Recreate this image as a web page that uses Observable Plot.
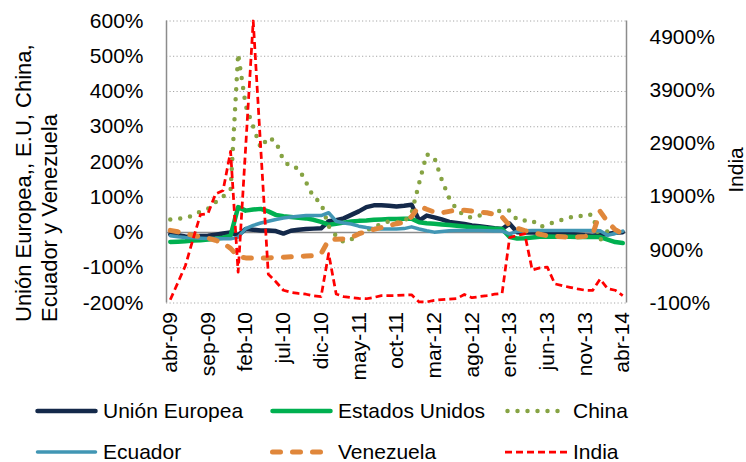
<!DOCTYPE html>
<html>
<head>
<meta charset="utf-8">
<script src="https://cdn.jsdelivr.net/npm/d3@7"></script>
<script src="https://cdn.jsdelivr.net/npm/@observablehq/plot@0.6"></script>
<style>
  body { margin: 0; background: #fff; font-family: "Liberation Sans", Arial, sans-serif; }
  #chart { position: relative; width: 746px; height: 462px; overflow: hidden; }
  #legend { position: absolute; left: 0; top: 395px; width: 746px; height: 67px; }
  .item { position: absolute; display: flex; align-items: center; font-size: 21px; color: #000; white-space: nowrap; }
  .item svg { margin-right: 5px; }
</style>
</head>
<body>
<div id="chart"><div id="legend"></div></div>
<script>
// ---- Data ----
const meses = ["abr-09","may-09","jun-09","jul-09","ago-09","sep-09","oct-09","nov-09","dic-09",
  "ene-10","feb-10","mar-10","abr-10","may-10","jun-10","jul-10","ago-10","sep-10","oct-10","nov-10","dic-10",
  "ene-11","feb-11","mar-11","abr-11","may-11","jun-11","jul-11","ago-11","sep-11","oct-11","nov-11","dic-11",
  "ene-12","feb-12","mar-12","abr-12","may-12","jun-12","jul-12","ago-12","sep-12","oct-12","nov-12","dic-12",
  "ene-13","feb-13","mar-13","abr-13","may-13","jun-13","jul-13","ago-13","sep-13","oct-13","nov-13","dic-13",
  "ene-14","feb-14","mar-14","abr-14"];
const tickMeses = ["abr-09","sep-09","feb-10","jul-10","dic-10","may-11","oct-11","mar-12","ago-12","ene-13","jun-13","nov-13","abr-14"];
const ticksIzq = [-200, -100, 0, 100, 200, 300, 400, 500, 600];
const ticksDer = [-100, 900, 1900, 2900, 3900, 4900];

const unionEuropea = [-5,-8,-11,-12,-10,-9,-6,-3,0,-8,
  10,8,6,6,4,-3,5,8,10,11,
  12,32,35,40,50,60,72,77,77,76,
  74,76,79,34,48,43,37,30,27,24,
  20,18,15,12,10,25,1,0,0,-1,
  -2,-3,-3,-4,-6,-8,-9,-7,-4,-1,1];
const estadosUnidos = [-27,-26,-25,-23,-22,-20,-18,-15,-9,72,
  62,65,67,60,50,46,44,42,40,36,
  30,22,25,28,31,33,34,36,37,38,
  38,39,39,29,26,25,23,21,19,17,
  15,14,12,11,10,-13,-17,-16,-14,-12,
  -11,-12,-12,-12,-13,-13,-13,-13,-20,-27,-30];
const china = [37,39,42,48,60,67,86,102,121,507,
  360,300,240,270,258,205,185,183,143,100,
  84,18,-10,-27,-20,-3,6,15,24,32,
  30,30,55,140,222,214,150,97,65,48,
  42,48,53,57,63,62,36,34,34,16,
  22,30,36,43,43,52,50,-22,4,2,18];
const ecuador = [-9,-12,-14,-15,-16,-17,-17,-18,-18,-13,
  11,20,27,32,37,41,44,46,48,48,
  48,56,32,27,24,18,14,11,10,10,
  10,11,16,10,5,1,3,5,6,6,
  6,6,5,4,4,-4,3,5,6,6,
  6,6,6,6,6,6,6,5,-8,-3,4];
const venezuela = [6,2,-3,-8,-12,-16,-22,-30,-45,-68,
  -72,-72,-72,-72,-71,-70,-69,-68,-67,-66,
  -60,-21,-19,-18,-14,-4,3,9,14,20,
  25,29,45,75,66,58,56,60,64,63,
  61,58,56,51,44,20,12,5,1,-5,
  -9,-11,-12,-13,-13,-11,-7,60,30,8,-4];
const india = [-40,280,600,1090,1560,1580,1950,2015,2750,480,
  2830,5200,2800,440,300,140,100,80,65,35,
  20,830,70,20,0,-15,-20,5,40,40,
  40,50,55,-80,-80,-50,-35,-25,-15,60,
  0,20,40,65,80,1130,1170,1200,520,560,
  575,260,225,195,165,140,135,350,170,140,40];

// secondary axis mapping (India: -100%..5200%  ->  left: -200%..600%)
const izqMin = -200, izqMax = 600, derMin = -100, derMax = 5200;
const aIzq = v => izqMin + (v - derMin) / (derMax - derMin) * (izqMax - izqMin);
const aDer = v => derMin + (v - izqMin) / (izqMax - izqMin) * (derMax - derMin);

const series = [
  {name: "Unión Europea", values: unionEuropea, stroke: "#14294a", width: 4.5, dash: null, cap: "round"},
  {name: "Estados Unidos", values: estadosUnidos, stroke: "#00b050", width: 4.5, dash: null, cap: "round"},
  {name: "China", values: china, stroke: "#86a343", width: 4.5, dash: "0,10", cap: "round"},
  {name: "Ecuador", values: ecuador, stroke: "#4196b4", width: 3.5, dash: null, cap: "round"},
  {name: "Venezuela", values: venezuela, stroke: "#e0873b", width: 5, dash: "8,12", cap: "round"},
  {name: "India", values: india.map(aIzq), stroke: "#ff0000", width: 2.75, dash: "7,4", cap: "butt"}
];

const lineMarks = series.map(s => Plot.line(s.values, {
  x: (d, i) => i, y: d => d,
  stroke: s.stroke, strokeWidth: s.width,
  strokeDasharray: s.dash, strokeLinecap: s.cap, strokeLinejoin: "round"
}));

const chart = Plot.plot({
  width: 746,
  height: 395,
  marginLeft: 166,
  marginRight: 120,
  marginTop: 20.5,
  marginBottom: 92.5,
  style: {fontFamily: "'Liberation Sans', Arial, sans-serif", fontSize: "21px", color: "#000", background: "#fff", overflow: "visible"},
  x: {domain: [-0.5, meses.length - 0.5]},
  y: {domain: [izqMin, izqMax]},
  marks: [
    Plot.gridY(ticksIzq.filter(d => d !== 0), {stroke: "#a6a6a6", strokeOpacity: 1, strokeDasharray: "1.2,2.3", strokeWidth: 1}),
    Plot.ruleY([0], {stroke: "#8c8c8c", strokeWidth: 1.3}),
    Plot.ruleX([-0.5, meses.length - 0.5], {stroke: "#8c8c8c", strokeWidth: 1.5}),
    ...lineMarks,
    Plot.axisY({ticks: ticksIzq, tickFormat: d => d + "%", tickSize: 0, tickPadding: 23, label: null}),
    Plot.axisY({anchor: "right", ticks: ticksDer.map(aIzq), tickFormat: d => Math.round(aDer(d)) + "%", tickSize: 0, tickPadding: 23, label: null}),
    Plot.axisX({ticks: tickMeses.map(m => meses.indexOf(m)), tickFormat: i => meses[i], tickRotate: -90, tickSize: 0, tickPadding: 9, label: null})
  ]
});

const svg = d3.select(chart);
const t = svg.append("g").attr("font-size", 22).attr("fill", "#000");
t.append("text").attr("transform", "translate(31,322) rotate(-90)").attr("text-anchor", "start").text("Unión Europea,, E.U, China,");
t.append("text").attr("transform", "translate(57,322) rotate(-90)").attr("text-anchor", "start").text("Ecuador y Venezuela");
t.append("text").attr("transform", "translate(743,170) rotate(-90)").attr("text-anchor", "middle").attr("font-size", 21).text("India");

document.getElementById("chart").prepend(chart);

// ---- Legend ----
const cols = [35, 270, 505];
const rowsY = [16, 57];
const legend = d3.select("#legend");
series.forEach((s, k) => {
  const item = legend.append("div").attr("class", "item")
    .style("left", cols[k % 3] + "px")
    .style("top", (rowsY[Math.floor(k / 3)] - 14) + "px")
    .style("height", "28px");
  const sw = item.append("svg").attr("width", 63).attr("height", 28);
  sw.append("line").attr("x1", s.cap === "round" ? 2.5 : 0).attr("x2", s.cap === "round" ? 60.5 : 63)
    .attr("y1", 14).attr("y2", 14)
    .attr("stroke", s.stroke).attr("stroke-width", s.width)
    .attr("stroke-dasharray", s.dash).attr("stroke-linecap", s.cap);
  item.append("span").text(s.name);
});
</script>
</body>
</html>
